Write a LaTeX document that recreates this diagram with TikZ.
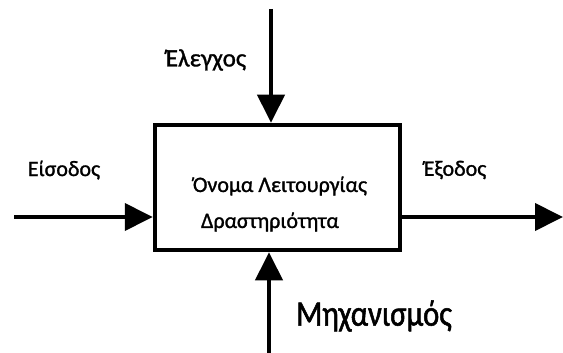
\documentclass[tikz,border=0pt]{standalone}
\usepackage{fontspec}
\setmainfont{Carlito}[FakeBold=1.2]
\newfontfamily\condfont{Carlito}[FakeStretch=0.85,FakeBold=1.5]
\usetikzlibrary{arrows.meta}
\tikzset{
  flow/.style={line width=4pt,-{Triangle[length=28pt,width=27pt]}},
  lbl/.style={font=\fontsize{22}{24}\selectfont,inner sep=0pt},
}
\begin{document}
\begin{tikzpicture}[x=1pt,y=-1pt]
\useasboundingbox (0,0) rectangle (563,353);
\node[draw,line width=4.5pt,minimum width=245pt,minimum height=125pt,inner sep=0pt] (box) at (277.5,187.5) {};
\node[lbl] (t1) at (280,186) {Όνομα Λειτουργίας};
\node[lbl] (t2) at (270,222) {Δραστηριότητα};
\coordinate (ctrl) at (271,9);
\coordinate (inp) at (14,217);
\coordinate (outp) at (563,217);
\coordinate (mech) at (269,353);
\draw[flow] (ctrl) -- (ctrl |- box.north);
\draw[flow] (inp) -- (inp -| box.west);
\draw[flow] (box.east |- outp) -- (outp);
\draw[flow] (mech) -- (mech |- box.south);
\node[lbl,font=\fontsize{25}{27}\selectfont] (l1) at (206,60) {Έλεγχος};
\node[lbl] (l2) at (64,170) {Είσοδος};
\node[lbl] (l3) at (455,170) {Έξοδος};
\node[lbl,font=\condfont\fontsize{36}{40}\selectfont] (l4) at (374,316) {Μηχανισμός};
\end{tikzpicture}
\end{document}
